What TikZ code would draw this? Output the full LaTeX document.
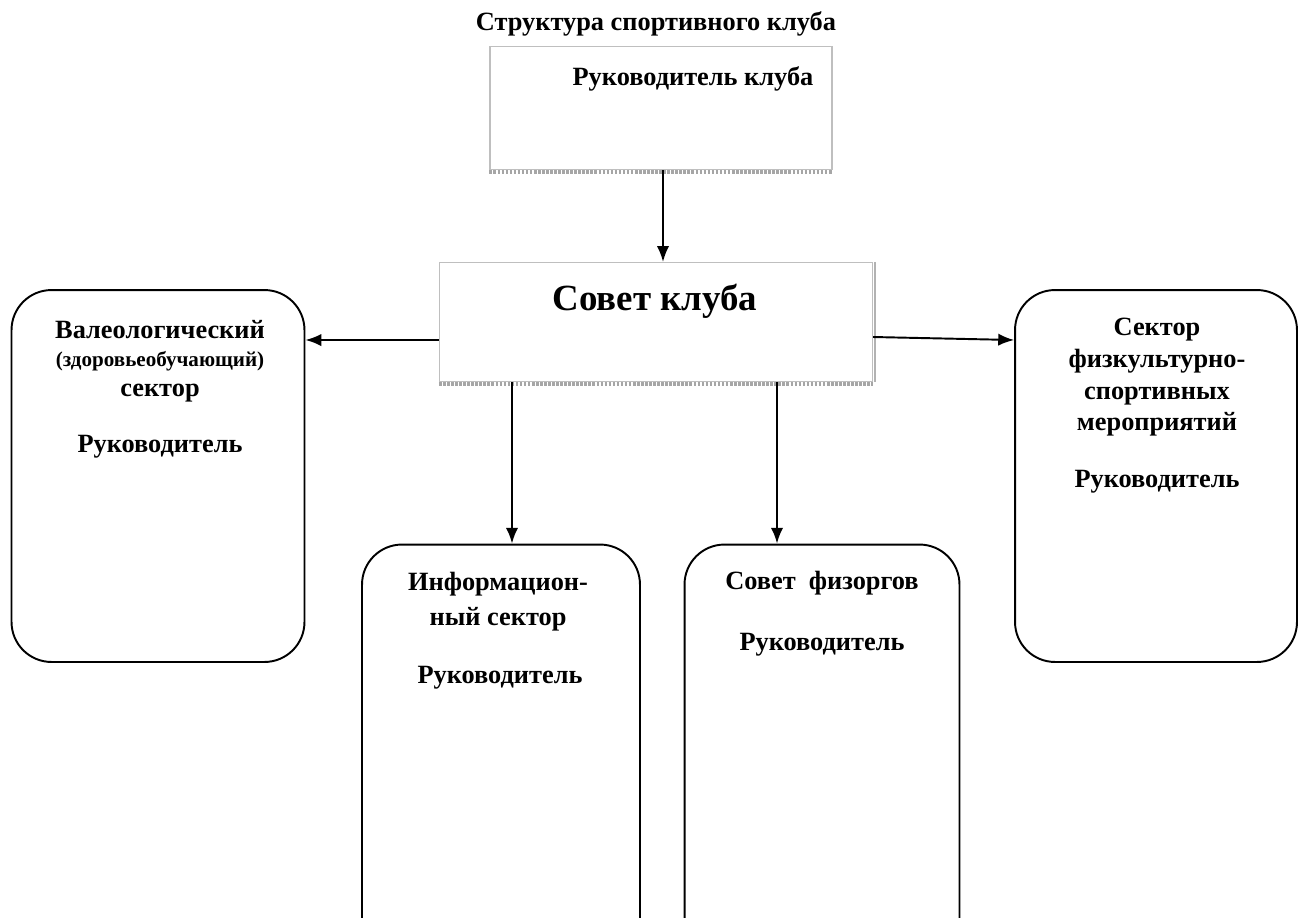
\documentclass[tikz,border=0pt]{standalone}
\usepackage{fontspec}
\setmainfont{Liberation Serif}
\usetikzlibrary{arrows.meta,positioning}

\tikzset{
  flatbox/.style={draw=gray!50, line width=0.7pt, fill=white, inner sep=0pt},
  roundbox/.style={draw=black, line width=1.1pt, rounded corners=0.8cm, inner sep=0pt},
  boxtext/.style={font=\bfseries\fontsize{15}{18}\selectfont, align=center, inner sep=0pt},
  link/.style={-{Latex[length=9pt,width=7pt]}, line width=1.1pt},
  shadowline/.style={gray!70, line width=2.2pt, dash pattern=on 1.5pt off 0.8pt}
}

\begin{document}
\begin{tikzpicture}[x=0.02cm,y=-0.02cm]
        % page frame, the lower boxes run off the sheet
        \useasboundingbox (0,0) rectangle (1302,917);
        \clip (0,0) rectangle (1302,917);

        % title
        \node[boxtext] (title) at (656,24) {Структура спортивного клуба};

        % upper boxes
        \node[flatbox, minimum width=6.84cm, minimum height=2.46cm] (chief) at (661,108) {};
        \draw[shadowline] ([yshift=-1pt]chief.south west) -- ([yshift=-1pt]chief.south east);
        \node[boxtext] (chieftxt) at (693,79) {Руководитель клуба};

        \node[flatbox, minimum width=8.66cm, minimum height=2.38cm] (council) at (656,322) {};
        \draw[shadowline] ([yshift=-1pt]council.south west) -- ([yshift=-1pt]council.south east);
        \draw[gray!60, line width=1.4pt] ([xshift=1pt]council.north east) -- ([xshift=1pt]council.south east);
        \node[boxtext, font=\bfseries\fontsize{21}{24}\selectfont] (counciltxt) at (655,301) {Совет клуба};

        % sectors
        \node[roundbox, minimum width=5.86cm, minimum height=7.44cm] (valeo) at (158,476) {};
        \node[boxtext, anchor=north] (valeotxt) at (160,320)
          {Валеологический\\[-2pt]{\fontsize{12}{14}\selectfont(здоровьеобучающий)}\\[-1pt]сектор};
        \node[boxtext] (valeohead) at (160,447) {Руководитель};

        \node[roundbox, minimum width=5.64cm, minimum height=7.44cm] (sport) at (1156,476) {};
        \node[boxtext, anchor=north] (sporttxt) at (1157,318)
          {Сектор\\физкультурно-\\спортивных\\мероприятий};
        \node[boxtext] (sporthead) at (1157,482) {Руководитель};

        \node[roundbox, minimum width=5.56cm, minimum height=8.3cm] (info) at (501,752) {};
        \node[boxtext, anchor=north] (infotxt) at (498,572)
          {Информацион-\\[2pt]ный сектор};
        \node[boxtext] (infohead) at (500,678) {Руководитель};

        \node[roundbox, minimum width=5.5cm, minimum height=8.3cm] (fizorg) at (822,752) {};
        \node[boxtext] (fizorgtxt) at (822,583) {Совет\ \ физоргов};
        \node[boxtext] (fizorghead) at (822,645) {Руководитель};

        % connectors
        \draw[link] (chief.south -| 663,0) -- (council.north -| 663,0);
        \draw[link] (council.west |- 0,340) -- (valeo.east |- 0,340);
        \draw[link] (council.east |- 0,337) -- (sport.west |- 0,340);
        \draw[link] (council.south -| 512,0) -- (info.north -| 512,0);
        \draw[link] (council.south -| 777,0) -- (fizorg.north -| 777,0);
\end{tikzpicture}
\end{document}
